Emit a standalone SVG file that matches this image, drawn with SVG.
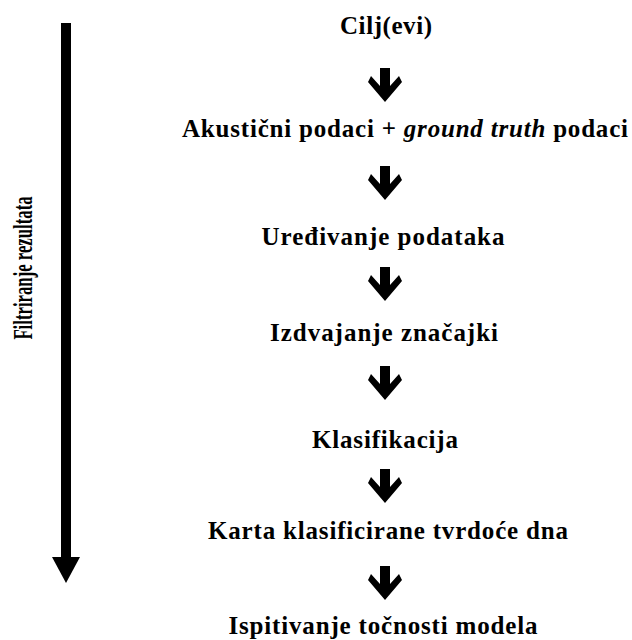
<svg xmlns="http://www.w3.org/2000/svg" width="632" height="640" viewBox="0 0 632 640">
<defs>
<style>
.t{font-family:"Liberation Serif","Times New Roman",serif;font-weight:bold;font-size:25px;fill:#000}
.side{font-family:"Liberation Serif","Times New Roman",serif;font-weight:bold;font-size:27px;fill:#000}
.ar{fill:#000}
</style>
<path id="arr" d="M-5,0 H5 V18 L14,8 L17,14 L0,34 L-17,14 L-14,8 L-5,18 Z"/>
</defs>
<rect width="632" height="640" fill="#fff"/>
<g id="connectors">
<use href="#arr" class="ar" x="385" y="68"/>
<use href="#arr" class="ar" x="385" y="166"/>
<use href="#arr" class="ar" x="385" y="267"/>
<use href="#arr" class="ar" x="385" y="366"/>
<use href="#arr" class="ar" x="385" y="469"/>
<use href="#arr" class="ar" x="385" y="566"/>
<g id="side-arrow">
<rect x="61" y="23" width="10" height="535" fill="#000"/>
<polygon points="52,557 80,557 66,583" fill="#000"/>
</g>
</g>
<g id="n-side"><text class="side" transform="translate(32,268) rotate(-90) scale(0.62,1)" text-anchor="middle">Filtriranje rezultata</text></g>
<g id="n1"><text class="t" x="386" y="34" text-anchor="middle" textLength="92">Cilj(evi)</text></g>
<g id="n2"><text class="t" x="405" y="137" text-anchor="middle" textLength="446">Akustični podaci + <tspan font-style="italic">ground truth</tspan> podaci</text></g>
<g id="n3"><text class="t" x="383" y="245" text-anchor="middle" textLength="243">Uređivanje podataka</text></g>
<g id="n4"><text class="t" x="384" y="341" text-anchor="middle" textLength="228">Izdvajanje značajki</text></g>
<g id="n5"><text class="t" x="385" y="448" text-anchor="middle" textLength="146">Klasifikacija</text></g>
<g id="n6"><text class="t" x="388" y="539" text-anchor="middle" textLength="360">Karta klasificirane tvrdoće dna</text></g>
<g id="n7"><text class="t" x="383" y="634" text-anchor="middle" textLength="309">Ispitivanje točnosti modela</text></g>
</svg>
